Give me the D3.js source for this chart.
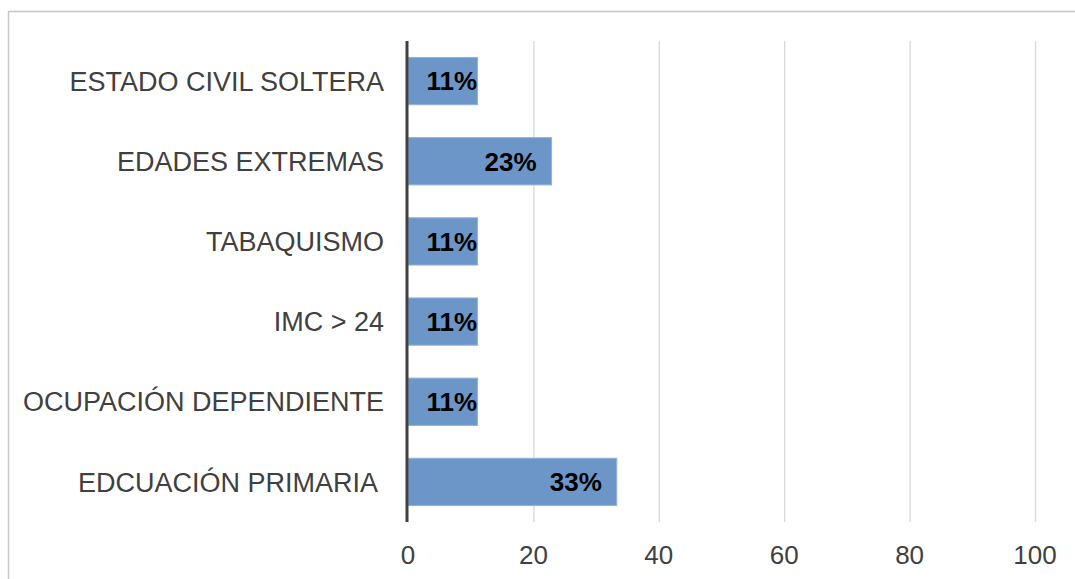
<!DOCTYPE html>
<html>
<head>
<meta charset="utf-8">
<script src="https://cdn.jsdelivr.net/npm/d3@7"></script>
<style>
  html, body { margin: 0; padding: 0; background: #fff; }
  svg { display: block; font-family: "Liberation Sans", Arial, sans-serif; }
</style>
</head>
<body>
<div class="graph-container"></div>
<script>
// chart data
const categories = [
  'ESTADO CIVIL SOLTERA',
  'EDADES EXTREMAS',
  'TABAQUISMO',
  'IMC > 24',
  'OCUPACIÓN DEPENDIENTE',
  'EDCUACIÓN PRIMARIA '
];
const values = [11.1, 22.9, 11.1, 11.1, 11.1, 33.3];
const valueLabels = ['11%', '23%', '11%', '11%', '11%', '33%'];
const xTicks = [0, 20, 40, 60, 80, 100];

// svg parameters
const w = 1075;
const h = 579;
const plotLeft = 408;
const plotRight = 1035;
const plotTop = 41;
const plotBottom = 522;

const svg = d3.select('.graph-container')
  .append('svg')
  .attr('width', w)
  .attr('height', h);

// outer frame (cut off at right and bottom)
svg.append('rect')
  .attr('x', 8.5).attr('y', 11.5)
  .attr('width', w + 20).attr('height', h + 20)
  .attr('fill', 'none')
  .attr('stroke', '#c6c6c6')
  .attr('stroke-width', 1.5);

// scales
const xScale = d3.scaleLinear([0, 100], [plotLeft, plotRight]);
const yScale = d3.scaleBand(categories, [plotTop, plotBottom]).paddingInner(0.41).paddingOuter(0.205);

// gridlines
svg.append('g').attr('class', 'grid')
  .selectAll('line')
  .data(xTicks.slice(1))
  .enter()
  .append('line')
  .attr('x1', (d) => xScale(d) + 0.5)
  .attr('x2', (d) => xScale(d) + 0.5)
  .attr('y1', plotTop)
  .attr('y2', plotBottom)
  .attr('stroke', '#d9d9d9')
  .attr('stroke-width', 1.3);

// bars
svg.append('g').attr('class', 'bars')
  .selectAll('rect')
  .data(values)
  .enter()
  .append('rect')
  .attr('x', xScale(0))
  .attr('y', (d, i) => yScale(categories[i]))
  .attr('width', (d) => xScale(d) - xScale(0))
  .attr('height', yScale.bandwidth())
  .attr('fill', '#6893c6')
  .attr('fill-opacity', 0.97)
  .attr('stroke', '#93b3da')
  .attr('stroke-width', 1);

// value labels
svg.append('g').attr('class', 'labels')
  .selectAll('text')
  .data(values)
  .enter()
  .append('text')
  .attr('x', (d) => Math.max(xScale(d) - 15, xScale(0) + 69))
  .attr('y', (d, i) => yScale(categories[i]) + yScale.bandwidth() / 2)
  .attr('dy', '0.36em')
  .attr('text-anchor', 'end')
  .attr('font-size', 26)
  .attr('font-weight', 'bold')
  .attr('fill', '#000')
  .text((d, i) => valueLabels[i]);

// zero axis line
svg.append('line')
  .attr('x1', xScale(0) - 1).attr('x2', xScale(0) - 1)
  .attr('y1', plotTop).attr('y2', plotBottom)
  .attr('stroke', '#404040')
  .attr('stroke-width', 3);

// category labels
svg.append('g').attr('class', 'cats')
  .selectAll('text')
  .data(categories)
  .enter()
  .append('text')
  .attr('x', 384)
  .attr('y', (d) => yScale(d) + yScale.bandwidth() / 2)
  .attr('dy', '0.36em')
  .attr('text-anchor', 'end')
  .attr('font-size', 27)
  .attr('fill', '#404040')
  .style('white-space', 'pre')
  .text((d) => d);

// x tick labels
svg.append('g').attr('class', 'ticks')
  .selectAll('text')
  .data(xTicks)
  .enter()
  .append('text')
  .attr('x', (d) => xScale(d))
  .attr('y', 564)
  .attr('text-anchor', 'middle')
  .attr('font-size', 26)
  .attr('fill', '#404040')
  .text((d) => d);
</script>
</body>
</html>
